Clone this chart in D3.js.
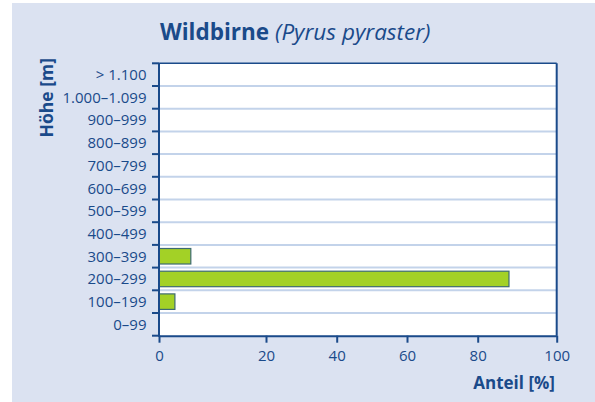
<!DOCTYPE html>
<html>
<head>
<meta charset="utf-8">
<script src="https://cdn.jsdelivr.net/npm/d3@7"></script>
<style>
  html, body { margin: 0; padding: 0; background: #ffffff; }
  svg { display: block; }
  text { font-family: "Open Sans", "Noto Sans", sans-serif; }
</style>
</head>
<body>
<svg id="chart" width="595" height="402"></svg>
<script>
// Elevation bands (top to bottom) and share of occurrences in percent
const categories = ["> 1.100", "1.000–1.099", "900–999", "800–899", "700–799", "600–699",
                    "500–599", "400–499", "300–399", "200–299", "100–199", "0–99"];
const shares = [0, 0, 0, 0, 0, 0, 0, 0, 8, 88, 4, 0];
const xTicks = [0, 20, 40, 60, 80, 100];
const xTickPositions = [0, 107, 177.7, 248, 318.7, 397.7];

const svg = d3.select("#chart");
const ink = "#1a4a8a";

// panel background
svg.append("rect")
  .attr("x", 12).attr("y", 3).attr("width", 583).attr("height", 399)
  .attr("fill", "#dbe2f1");

const plotLeft = 159, plotRight = 556.7, plotTop = 63.3, plotBottom = 335.7;

const x = d3.scaleLinear().domain([0, 100]).range([plotLeft, plotRight]);
// tick layout of the value axis
const xAxisScale = d3.scaleLinear().domain(xTicks).range(xTickPositions.map(p => plotLeft + p));
const y = d3.scaleBand().domain(categories).range([plotTop, plotBottom]).paddingInner(0).paddingOuter(0);

// plot area
svg.append("rect")
  .attr("x", plotLeft).attr("y", plotTop)
  .attr("width", plotRight - plotLeft).attr("height", plotBottom - plotTop)
  .attr("fill", "#ffffff");

// horizontal separators between bands
svg.append("g")
  .selectAll("line")
  .data(categories.slice(1))
  .join("line")
  .attr("x1", plotLeft).attr("x2", plotRight)
  .attr("y1", d => y(d)).attr("y2", d => y(d))
  .attr("stroke", "#c3d3ea").attr("stroke-width", 2);

// bars
const bandPad = 3.6;
svg.append("g")
  .selectAll("rect")
  .data(categories.map((c, i) => ({ c, v: shares[i] })).filter(d => d.v > 0))
  .join("rect")
  .attr("x", x(0))
  .attr("y", d => y(d.c) + bandPad)
  .attr("width", d => x(d.v) - x(0))
  .attr("height", y.bandwidth() - 2 * bandPad)
  .attr("fill", "#a3d126")
  .attr("stroke", "#3d6a72").attr("stroke-width", 1.2);

// frame: top and right edges
svg.append("line")
  .attr("x1", plotLeft).attr("x2", plotRight).attr("y1", plotTop).attr("y2", plotTop)
  .attr("stroke", ink).attr("stroke-width", 1.6);
svg.append("line")
  .attr("x1", plotRight).attr("x2", plotRight).attr("y1", plotTop).attr("y2", plotBottom)
  .attr("stroke", ink).attr("stroke-width", 2);

// y axis with ticks on band boundaries
const yAxis = svg.append("g");
yAxis.append("line")
  .attr("x1", plotLeft).attr("x2", plotLeft).attr("y1", plotTop).attr("y2", plotBottom + 1)
  .attr("stroke", ink).attr("stroke-width", 2);
const boundaries = categories.map(c => y(c)).concat([plotBottom]);
yAxis.selectAll("line.tick")
  .data(boundaries)
  .join("line")
  .attr("class", "tick")
  .attr("x1", plotLeft - 7).attr("x2", plotLeft)
  .attr("y1", d => d).attr("y2", d => d)
  .attr("stroke", ink).attr("stroke-width", 2);
yAxis.selectAll("text")
  .data(categories)
  .join("text")
  .attr("x", 146.5)
  .attr("y", d => y(d) + y.bandwidth() / 2)
  .attr("dy", "0.36em")
  .attr("text-anchor", "end")
  .attr("fill", ink)
  .attr("font-size", 15)
  .text(d => d);

// x axis
const xAxis = svg.append("g")
  .attr("transform", `translate(0,${plotBottom})`)
  .call(d3.axisBottom(xAxisScale).tickValues(xTicks).tickSize(7).tickSizeOuter(0).tickPadding(7.5));
xAxis.select(".domain").attr("stroke", ink).attr("stroke-width", 2);
xAxis.selectAll(".tick line").attr("stroke", ink).attr("stroke-width", 2);
xAxis.selectAll(".tick text")
  .attr("fill", ink)
  .attr("font-size", 15)
  .attr("font-family", "'Open Sans', 'Noto Sans', sans-serif");

// axis titles
svg.append("text")
  .attr("x", 555).attr("y", 388.5)
  .attr("text-anchor", "end")
  .attr("fill", ink)
  .attr("font-size", 17)
  .attr("font-weight", "bold")
  .text("Anteil [%]");

svg.append("text")
  .attr("transform", "translate(52.5,97.7) rotate(-90)")
  .attr("text-anchor", "middle")
  .attr("fill", ink)
  .attr("font-size", 17.5)
  .attr("font-weight", "bold")
  .text("Höhe [m]");

// title
const title = svg.append("text")
  .attr("x", 160).attr("y", 40)
  .attr("fill", ink)
  .attr("font-size", 22.5);
title.append("tspan").attr("font-weight", "bold").text("Wildbirne ");
title.append("tspan").attr("font-style", "italic").text("(Pyrus pyraster)");
</script>
</body>
</html>
